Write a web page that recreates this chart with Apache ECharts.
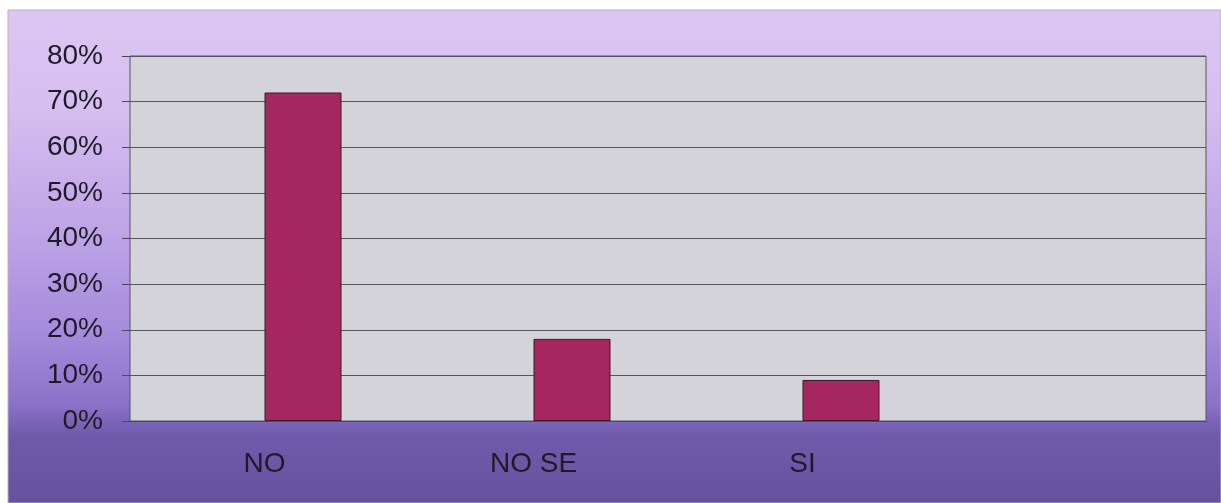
<!DOCTYPE html>
<html>
<head>
<meta charset="utf-8">
<script src="https://cdn.jsdelivr.net/npm/echarts@6/dist/echarts.min.js"></script>
<style>
  html, body { margin: 0; padding: 0; background: #ffffff; }
  #chart { width: 1221px; height: 503px; }
</style>
</head>
<body>
<div id="chart"></div>
<script>
// Answers and their shares (percent)
const categories = ['NO', 'NO SE', 'SI', ''];
const shares = [72, 18, 9, '-'];
const spacer = ['-', '-', '-', '-'];
const yTicks = { min: 0, max: 80, step: 10 };

const chart = echarts.init(document.getElementById('chart'));

const fontFamily = 'Liberation Sans, Arial, sans-serif';

chart.setOption({
  animation: false,
  graphic: [{
    type: 'rect',
    z: -10,
    shape: { x: 8, y: 10, width: 1213, height: 493 },
    style: {
      fill: new echarts.graphic.LinearGradient(0, 0, 0, 1, [
        { offset: 0, color: '#dcc6f2' },
        { offset: 0.2, color: '#d6bef0' },
        { offset: 0.45, color: '#bea4e6' },
        { offset: 0.65, color: '#a68cdc' },
        { offset: 0.8, color: '#8b72c8' },
        { offset: 0.86, color: '#6f5bab' },
        { offset: 1, color: '#65529e' }
      ]),
      stroke: '#b8b0c4',
      lineWidth: 1
    }
  }],
  grid: {
    left: 130, top: 56, right: 15, bottom: 82,
    show: true,
    backgroundColor: '#d4d3da',
    borderColor: '#55555f',
    borderWidth: 1
  },
  xAxis: {
    type: 'category',
    data: categories,
    axisLine: { lineStyle: { color: '#4a4a55', width: 1 } },
    axisTick: { show: false },
    axisLabel: { margin: 29, fontFamily, fontSize: 28, color: '#1e1a28' }
  },
  yAxis: {
    type: 'value',
    min: yTicks.min, max: yTicks.max, interval: yTicks.step,
    axisLine: { show: false },
    axisTick: { show: true, length: 8, lineStyle: { color: '#4a4a55' } },
    splitLine: { lineStyle: { color: '#55555f', width: 1 } },
    axisLabel: { margin: 27, formatter: '{value}%', fontFamily, fontSize: 28, color: '#1e1a28' }
  },
  series: [
    {
      type: 'bar',
      data: spacer,
      barWidth: 77,
      barGap: '0%',
      itemStyle: { color: 'transparent' },
      silent: true
    },
    {
      type: 'bar',
      data: shares,
      barWidth: 77,
      barGap: '0%',
      itemStyle: { color: '#a6275f', borderColor: '#3a1a2c', borderWidth: 1 }
    }
  ]
});
</script>
</body>
</html>
